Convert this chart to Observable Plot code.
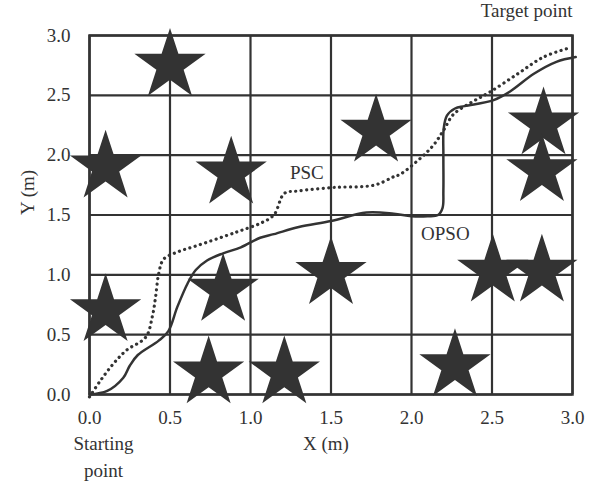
<!DOCTYPE html>
<html>
<head>
<meta charset="utf-8">
<script src="https://cdn.jsdelivr.net/npm/d3@7"></script>
<script src="https://cdn.jsdelivr.net/npm/@observablehq/plot@0.6"></script>
<style>
  html, body { margin: 0; padding: 0; background: #fff; }
</style>
</head>
<body>
<div id="chart"></div>
<script>
// Tick values (m)
const tickValues = [0, 0.5, 1.0, 1.5, 2.0, 2.5, 3.0];

// Obstacles (stars)
const obstacleX = [0.5, 0.1, 0.88, 1.78, 2.82, 2.81, 0.1, 0.83, 0.74, 1.21, 1.5, 2.27, 2.505, 2.81];
const obstacleY = [2.75, 1.9, 1.85, 2.2, 2.26, 1.87, 0.7, 0.87, 0.18, 0.18, 1.01, 0.24, 1.03, 1.03];

// OPSO path (solid)
const opsoX = [0, 0.11, 0.21, 0.25, 0.30, 0.43, 0.49, 0.545, 0.61, 0.66, 0.73, 0.83, 0.94, 1.06, 1.145, 1.30, 1.50, 1.72, 1.89, 2.00, 2.10, 2.165, 2.193, 2.198, 2.198, 2.20, 2.22, 2.27, 2.33, 2.51, 2.61, 2.76, 2.90, 3.02];
const opsoY = [0, 0.03, 0.14, 0.24, 0.33, 0.45, 0.53, 0.73, 0.93, 1.04, 1.12, 1.18, 1.23, 1.31, 1.34, 1.40, 1.45, 1.52, 1.51, 1.49, 1.49, 1.50, 1.56, 1.70, 2.00, 2.22, 2.33, 2.39, 2.41, 2.46, 2.53, 2.68, 2.78, 2.82];

// PSC path (dotted)
const pscX = [0, 0.07, 0.15, 0.23, 0.35, 0.39, 0.41, 0.43, 0.46, 0.545, 0.67, 0.855, 0.94, 1.06, 1.145, 1.21, 1.29, 1.52, 1.77, 1.89, 1.93, 2.06, 2.14, 2.20, 2.26, 2.37, 2.49, 2.66, 2.82, 2.99];
const pscY = [-0.02, 0.12, 0.26, 0.37, 0.48, 0.65, 0.81, 1.01, 1.13, 1.19, 1.245, 1.33, 1.37, 1.43, 1.50, 1.68, 1.70, 1.73, 1.75, 1.82, 1.84, 1.98, 2.09, 2.21, 2.34, 2.44, 2.53, 2.68, 2.82, 2.90];

// Path labels
const pathLabels = ["PSC", "OPSO"];
const pathLabelX = [1.35, 2.21];
const pathLabelY = [1.855, 1.34];

const ink = "#333";

const obstacles = obstacleX.map((x, i) => ({x, y: obstacleY[i]}));
const opso = opsoX.map((x, i) => ({x, y: opsoY[i]}));
const psc = pscX.map((x, i) => ({x, y: pscY[i]}));
const labels = pathLabels.map((t, i) => ({t, x: pathLabelX[i], y: pathLabelY[i]}));

const chart = Plot.plot({
  width: 600,
  height: 485,
  marginLeft: 89,
  marginRight: 28,
  marginTop: 35,
  marginBottom: 91,
  x: {domain: [0, 3]},
  y: {domain: [0, 3]},
  style: {fontFamily: "'Liberation Serif', serif", fontSize: "19px", color: ink, background: "#fff", overflow: "visible"},
  marks: [
    Plot.gridX(tickValues, {stroke: ink, strokeOpacity: 1, strokeWidth: 2.2}),
    Plot.gridY(tickValues, {stroke: ink, strokeOpacity: 1, strokeWidth: 2.2}),
    Plot.frame({stroke: ink, strokeWidth: 2.5}),
    Plot.axisX({ticks: tickValues, tickFormat: d3.format(".1f"), tickSize: 0, tickPadding: 16, label: null}),
    Plot.axisY({ticks: tickValues, tickFormat: d3.format(".1f"), tickSize: 0, tickPadding: 19, label: null}),
    Plot.line(psc, {x: "x", y: "y", curve: "catmull-rom", stroke: ink, strokeWidth: 3.2, strokeDasharray: "0.1,5.4", strokeLinecap: "round"}),
    Plot.line(opso, {x: "x", y: "y", curve: "catmull-rom", stroke: ink, strokeWidth: 2.5}),
    Plot.dot(obstacles, {x: "x", y: "y", symbol: "star", r: 22.4, fill: ink, stroke: "none"}),
    Plot.text(labels, {x: "x", y: "y", text: "t", fill: ink}),
    Plot.text(["X (m)"], {frameAnchor: "bottom", dy: 55, dx: -5, fill: ink}),
    Plot.text(["Y (m)"], {frameAnchor: "left", dx: -62, rotate: -90, fill: ink}),
    Plot.text(["Starting\npoint"], {frameAnchor: "bottom-left", textAnchor: "middle", dx: 14, dy: 82, lineHeight: 1.37, fill: ink}),
    Plot.text(["Target point"], {frameAnchor: "top-right", dy: -32, textAnchor: "end", fill: ink})
  ]
});
document.getElementById("chart").appendChild(chart);
</script>
</body>
</html>
